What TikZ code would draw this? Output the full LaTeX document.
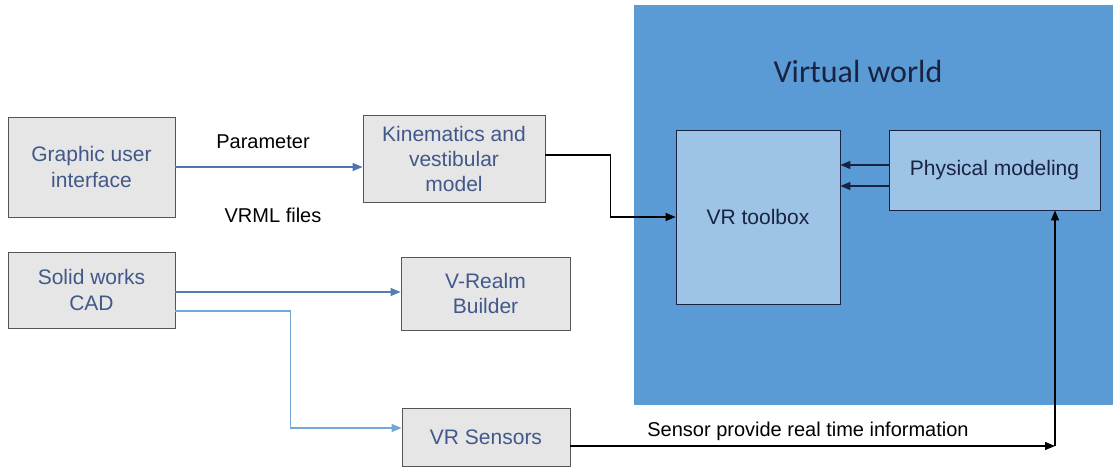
\documentclass[tikz,border=0pt]{standalone}
\usepackage{fontspec}
\setmainfont{Liberation Sans}
\newfontfamily\worldfont{Carlito}
\usetikzlibrary{arrows.meta, positioning, calc}
\definecolor{boxfill}{RGB}{231, 230, 230}
\definecolor{boxline}{RGB}{85, 85, 85}
\definecolor{boxtext}{RGB}{64, 88, 138}
\definecolor{worldblue}{RGB}{91, 155, 213}
\definecolor{toolblue}{RGB}{157, 195, 230}
\definecolor{navyline}{RGB}{25, 35, 65}
\definecolor{paramblue}{RGB}{80, 116, 176}
\definecolor{cadblue}{RGB}{84, 126, 176}
\definecolor{sensblue}{RGB}{116, 166, 214}

\begin{document}
\begin{tikzpicture}[x=0.5pt, y=-0.5pt,
  greybox/.style={draw=boxline, fill=boxfill, text=boxtext, align=center, inner sep=2pt, font=\fontsize{10.5}{12.7}\selectfont},
  toolbox/.style={draw=navyline, fill=toolblue, text=navyline, align=center, inner sep=2pt, font=\fontsize{10.5}{12.6}\selectfont},
  lbl/.style={font=\fontsize{10}{12}\selectfont},
  arr/.style={line width=0.65pt, -{Triangle[length=5pt, width=4pt]}}]
  \useasboundingbox (0,0) rectangle (1115,469);

  % Virtual world
  \fill[worldblue] (634,5) rectangle (1113,405);
  \node[font=\worldfont\fontsize{16}{19}\selectfont, text=navyline] (title) at (858,72) {Virtual world};
  \node[toolbox, minimum width=82pt, minimum height=87pt] (vr) at (758,217) {VR toolbox};
  \node[toolbox, minimum width=105.5pt, minimum height=40pt] (phys) at (994.5,170) {Physical modeling};

  % Left side boxes
  \node[greybox, minimum width=83.5pt, minimum height=50pt] (gui) at (91.5,167) {Graphic user\\interface};
  \node[greybox, minimum width=91pt, minimum height=43.5pt] (kin) at (454,159) {Kinematics and\\vestibular\\model};
  \node[greybox, minimum width=83.5pt, minimum height=38pt] (cad) at (91.5,290) {Solid works\\CAD};
  \node[greybox, minimum width=84.5pt, minimum height=36.5pt] (vrealm) at (485.5,293.5) {V-Realm\\Builder};
  \node[greybox, minimum width=84pt, minimum height=29pt] (sens) at (486,437) {VR Sensors};

  % Labels
  \node[lbl] (param) at (263,142) {Parameter};
  \node[lbl] (vrml) at (273,215) {VRML files};
  \node[lbl] (info) at (808,431) {Sensor provide real time information};

  % Connectors
  \draw[arr, paramblue] (gui.east) -- (gui.east -| kin.west);
  \draw[arr, black] ([yshift=2pt]kin.east) -- ++(65,0) |- (vr.west);
  \draw[arr, navyline] ([yshift=2.5pt]phys.west) -- ([yshift=2.5pt]phys.west -| vr.east);
  \draw[arr, navyline] ([yshift=-8pt]phys.west) -- ([yshift=-8pt]phys.west -| vr.east);
  \draw[arr, cadblue] ([yshift=-1pt]cad.east) -- ([yshift=-1pt]cad.east -| vrealm.west);
  \draw[arr, sensblue] ([yshift=-10.5pt]cad.east) -- ++(115,0) |- ([yshift=4.5pt]sens.west);
  \coordinate (corner) at (1055,446);
  \draw[arr, black] ([yshift=-4.5pt]sens.east) -- (corner);
  \draw[arr, black] (corner) -- (corner |- phys.south);
\end{tikzpicture}
\end{document}
